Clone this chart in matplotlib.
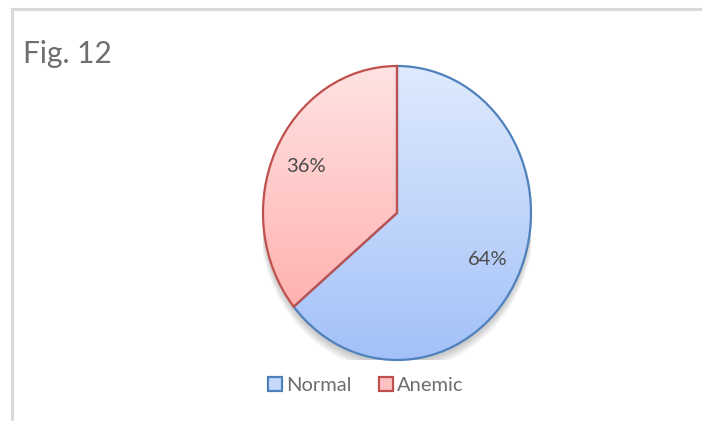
import matplotlib.pyplot as plt
import numpy as np
from matplotlib.patches import Ellipse
from matplotlib.lines import Line2D

# pie data
labels = ["Normal", "Anemic"]
shares = [64, 36]
edge_colors = ["#4f81bd", "#c0504d"]
top_colors = ["#dfeafd", "#ffe3e3"]
bottom_colors = ["#a3c1f8", "#ffa7a5"]

W, H = 702, 421
fig = plt.figure(figsize=(W / 100, H / 100), dpi=100)
fig.patch.set_facecolor("white")

# light grey chart frame (left and top edges)
frame = fig.add_axes([0, 0, 1, 1])
frame.set_xlim(0, W)
frame.set_ylim(H, 0)
frame.axis("off")
frame.plot([12, 12, W], [H, 8.5, 8.5], color="#d9d9d9", lw=2.2, solid_joinstyle="miter")

fig.text(23 / W, 1 - 54 / H, "Fig. 12", fontsize=21.5, color="#6e6e6e",
         family="Lato", va="center", ha="left")

# pie axes sized in pixels so the pie comes out slightly oval
cx, cy, rx, ry = 397, 213, 134, 147
ax = fig.add_axes([(cx - rx) / W, 1 - (cy + ry) / H, 2 * rx / W, 2 * ry / H])

# soft shadow under the pie
for k in range(6):
    ax.add_patch(Ellipse((0, -0.025 - k * 0.006), 2.0 + k * 0.01, 2.0 + k * 0.01,
                         color="black", alpha=0.035, lw=0, zorder=0))

wedges, texts, autotexts = ax.pie(
    shares, startangle=90, counterclock=False, radius=1,
    autopct="%d%%", pctdistance=0.75,
    wedgeprops=dict(facecolor="none", linewidth=1.6),
    textprops=dict(fontsize=14.5, color="#4a4a4a", family="Lato"))

for w, ec, c0, c1 in zip(wedges, edge_colors, top_colors, bottom_colors):
    w.set_edgecolor(ec)
    w.set_zorder(3)
    # vertical gradient fill clipped to the wedge
    a = np.array(plt.matplotlib.colors.to_rgb(c0))
    b = np.array(plt.matplotlib.colors.to_rgb(c1))
    t = np.linspace(0, 1, 256)[:, None]
    grad = (a * (1 - t) + b * t)[:, None, :]
    im = ax.imshow(grad, extent=[-1, 1, -1, 1], origin="upper",
                   aspect="auto", zorder=2, interpolation="bilinear")
    im.set_clip_path(w)

for t in autotexts:
    t.set_zorder(5)

ax.set_xlim(-1, 1)
ax.set_ylim(-1, 1)
ax.set_aspect("auto")
ax.axis("off")

handles = [Line2D([], [], marker="s", linestyle="none", markersize=10,
                  markerfacecolor=c, markeredgecolor=e, markeredgewidth=1.6)
           for c, e in zip(["#c6dafc", "#ffc2c2"], edge_colors)]
fig.legend(handles, labels, loc="center", bbox_to_anchor=(365 / W, 1 - 385 / H),
           ncol=2, frameon=False, handlelength=0.8,
           handletextpad=0.15, columnspacing=1.3,
           prop=dict(family="Lato", size=14.5))
for txt in fig.legends[0].get_texts():
    txt.set_color("#6e6e6e")

fig.savefig("out.png", dpi=100, facecolor="white")
